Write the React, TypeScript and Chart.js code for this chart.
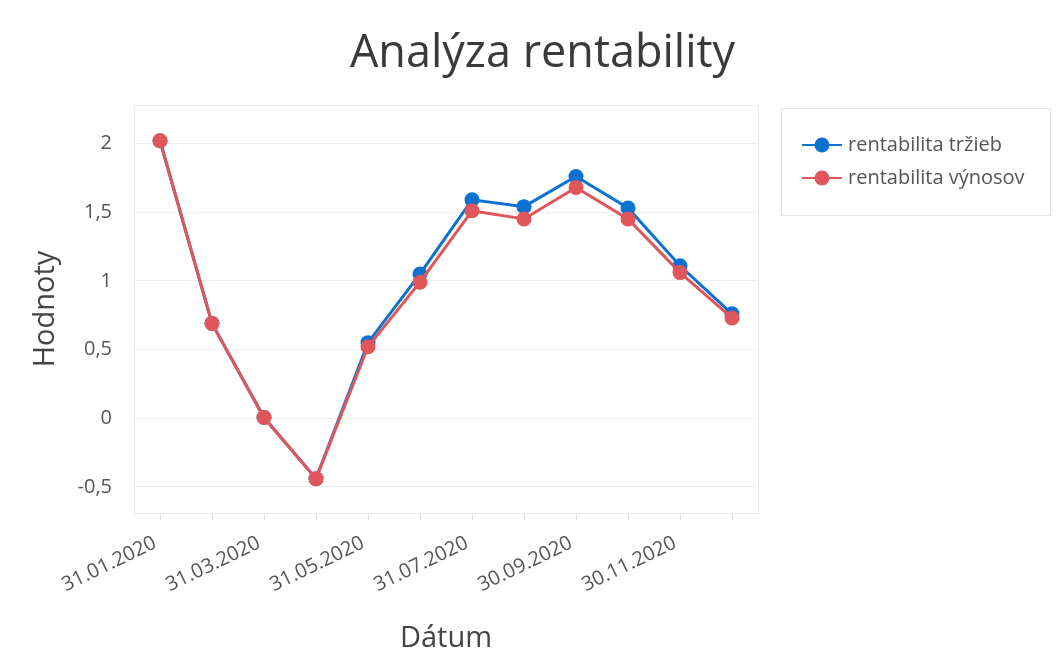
import React, { useEffect, useRef } from 'react';
import { Chart, registerables } from 'chart.js';

Chart.register(...registerables);

const categories = [
  '31.01.2020', '29.02.2020', '31.03.2020', '30.04.2020', '31.05.2020', '30.06.2020',
  '31.07.2020', '31.08.2020', '30.09.2020', '31.10.2020', '30.11.2020', '31.12.2020',
];
const rentabilitaTrzieb = [2.02, 0.69, 0.005, -0.44, 0.55, 1.05, 1.59, 1.54, 1.76, 1.53, 1.11, 0.76];
const rentabilitaVynosov = [2.02, 0.69, 0.005, -0.44, 0.52, 0.99, 1.51, 1.45, 1.68, 1.45, 1.06, 0.73];
const yTickValues = [-0.5, 0, 0.5, 1, 1.5, 2];
const seriesNames = ['rentabilita tržieb', 'rentabilita výnosov'];
const seriesColors = ['#0b72d2', '#e0565b'];

const FONT = '"Open Sans", "Noto Sans", sans-serif';

const frameAndLegend = {
  id: 'frameAndLegend',
  beforeDatasetsDraw(chart: any) {
    const { ctx, chartArea } = chart;
    ctx.save();
    ctx.strokeStyle = '#ececec';
    ctx.lineWidth = 1;
    ctx.strokeRect(
      Math.round(chartArea.left) + 0.5,
      Math.round(chartArea.top) + 0.5,
      Math.round(chartArea.right - chartArea.left),
      Math.round(chartArea.bottom - chartArea.top)
    );
    ctx.restore();
  },
  afterDraw(chart: any) {
    const { ctx } = chart;
    const x0 = chart.chartArea.right + 23;
    const y0 = chart.chartArea.top + 3;
    const w = 269;
    const h = 107;
    ctx.save();
    ctx.strokeStyle = '#e6e6e6';
    ctx.lineWidth = 1;
    ctx.strokeRect(Math.round(x0) + 0.5, Math.round(y0) + 0.5, w, h);
    chart.data.datasets.forEach((ds: any, i: number) => {
      const cy = y0 + 37 + i * 33;
      ctx.strokeStyle = ds.borderColor;
      ctx.lineWidth = 2;
      ctx.beginPath();
      ctx.moveTo(x0 + 21, cy);
      ctx.lineTo(x0 + 61, cy);
      ctx.stroke();
      ctx.fillStyle = ds.backgroundColor;
      ctx.beginPath();
      ctx.arc(x0 + 41, cy, 7.5, 0, Math.PI * 2);
      ctx.fill();
      ctx.fillStyle = '#555555';
      ctx.font = `20px ${FONT}`;
      ctx.textBaseline = 'middle';
      ctx.textAlign = 'left';
      ctx.fillText(ds.label, x0 + 67, cy);
    });
    ctx.restore();
  },
};

export default function App() {
  const ref = useRef<HTMLCanvasElement | null>(null);

  useEffect(() => {
    if (!ref.current) return;
    const chart = new Chart(ref.current, {
      type: 'line',
      data: {
        labels: categories,
        datasets: [
          {
            label: seriesNames[0],
            data: rentabilitaTrzieb,
            borderColor: seriesColors[0],
            backgroundColor: seriesColors[0],
            borderWidth: 3,
            pointRadius: 7.5,
            pointBorderWidth: 0,
            tension: 0,
            order: 1,
          },
          {
            label: seriesNames[1],
            data: rentabilitaVynosov,
            borderColor: seriesColors[1],
            backgroundColor: seriesColors[1],
            borderWidth: 3,
            pointRadius: 7.5,
            pointBorderWidth: 0,
            tension: 0,
            order: 0,
          },
        ],
      },
      options: {
        responsive: false,
        animation: false,
        layout: { padding: { left: 25, right: 0, top: 0, bottom: 0 } },
        plugins: {
          legend: { display: false },
          tooltip: { enabled: false },
          title: {
            display: true,
            text: 'Analýza rentability',
            color: '#3a3a3a',
            font: { family: FONT, size: 45, weight: 'normal' },
            padding: { top: 19, bottom: 24 },
          },
        },
        scales: {
          x: {
            type: 'category',
            offset: true,
            grid: { offset: false, drawOnChartArea: false, drawTicks: true, tickLength: 7, color: '#dddddd' },
            border: { color: '#e8e8e8' },
            ticks: {
              autoSkip: false,
              minRotation: 26,
              maxRotation: 26,
              color: '#555555',
              font: { family: FONT, size: 20 },
              padding: 11,
              labelOffset: -5,
              callback: (_v: any, i: number) => (i % 2 === 0 ? categories[i] : ''),
            },
            title: {
              display: true,
              text: 'Dátum',
              color: '#444444',
              font: { family: FONT, size: 29 },
              padding: { top: 4, bottom: 5 },
            },
            afterFit: (s: any) => {
              s.height = 148;
            },
          },
          y: {
            min: -0.69,
            max: 2.28,
            afterBuildTicks: (s: any) => {
              s.ticks = yTickValues.map((v) => ({ value: v }));
            },
            grid: { color: '#eeeeee', drawTicks: false },
            border: { color: '#e8e8e8' },
            ticks: {
              color: '#555555',
              font: { family: FONT, size: 20 },
              padding: 22,
              callback: (v: any) => String(v).replace('.', ','),
            },
            title: {
              display: true,
              text: 'Hodnoty',
              color: '#444444',
              font: { family: FONT, size: 29, lineHeight: 0.9 },
              padding: { top: 0, bottom: 0 },
            },
            afterFit: (s: any) => {
              s.width = 101;
            },
          },
          legendSpace: {
            type: 'linear',
            position: 'right',
            display: true,
            grid: { display: false, drawTicks: false },
            border: { display: false },
            ticks: { display: false },
            afterFit: (s: any) => {
              s.width = 294;
            },
          },
        },
      },
      plugins: [frameAndLegend],
    });
    return () => chart.destroy();
  }, []);

  return (
    <div style={{ width: 1044, height: 653, background: '#ffffff' }}>
      <canvas ref={ref} width={1044} height={653} style={{ display: 'block' }} />
    </div>
  );
}
